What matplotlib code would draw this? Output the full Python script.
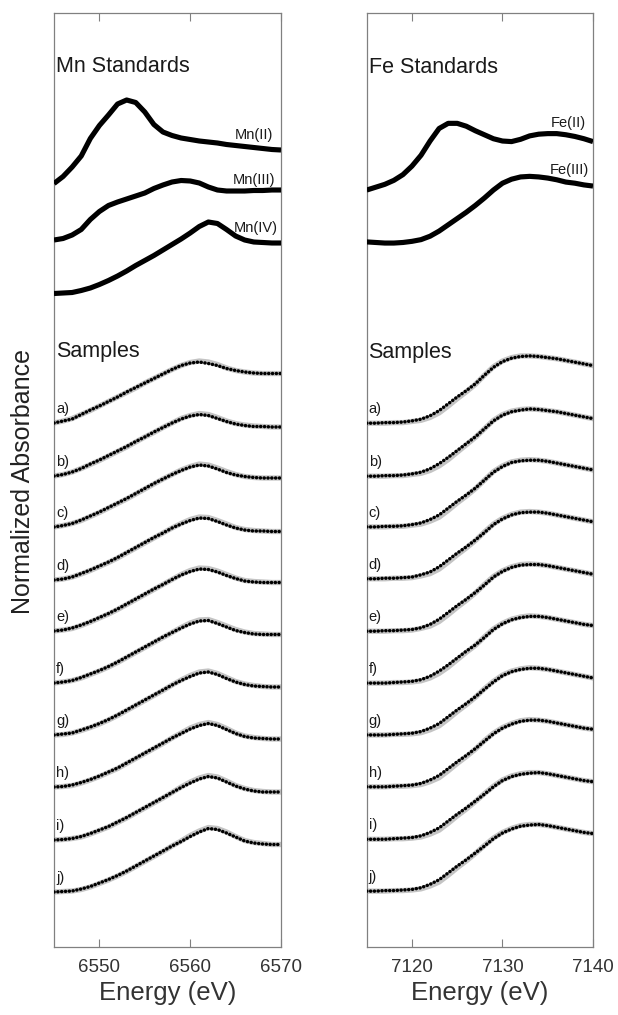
import numpy as np
import matplotlib
matplotlib.use("Agg")
import matplotlib.pyplot as plt
from matplotlib.transforms import blended_transform_factory

plt.rcParams['font.family'] = ['Liberation Sans', 'DejaVu Sans']

# ---------------- energies (eV) ----------------
mn_energy = np.arange(6545, 6571, 1.0)
fe_energy = np.arange(7115, 7141, 1.0)

# ---------------- Mn standards (normalized, relative to first point) ----------------
mn_II = [0.00, 0.14, 0.33, 0.55, 0.90, 1.16, 1.37, 1.59, 1.67, 1.62, 1.43, 1.18, 1.03,
         0.96, 0.91, 0.88, 0.85, 0.83, 0.81, 0.78, 0.76, 0.74, 0.72, 0.70, 0.68, 0.67]
mn_III = [0.00, 0.03, 0.10, 0.21, 0.41, 0.57, 0.69, 0.76, 0.82, 0.88, 0.94, 1.03, 1.10,
          1.16, 1.19, 1.18, 1.14, 1.06, 1.00, 0.98, 0.98, 0.98, 0.99, 0.99, 1.00, 1.00]
mn_IV = [0.00, 0.01, 0.02, 0.06, 0.11, 0.18, 0.26, 0.35, 0.45, 0.56, 0.66, 0.76, 0.87,
         0.98, 1.09, 1.21, 1.34, 1.43, 1.40, 1.28, 1.15, 1.07, 1.03, 1.02, 1.01, 1.01]

# ---------------- Fe standards ----------------
fe_II = [0.00, 0.05, 0.10, 0.17, 0.27, 0.42, 0.61, 0.86, 1.08, 1.17, 1.17, 1.12, 1.04,
         0.97, 0.90, 0.86, 0.85, 0.89, 0.95, 0.98, 0.99, 0.99, 0.97, 0.94, 0.90, 0.85]
fe_III = [0.00, -0.01, -0.02, -0.02, -0.01, 0.01, 0.04, 0.10, 0.19, 0.30, 0.41, 0.52, 0.64,
          0.77, 0.91, 1.03, 1.10, 1.14, 1.15, 1.14, 1.12, 1.09, 1.05, 1.03, 1.00, 0.98]

# ---------------- Mn samples: measured data ----------------
mn_a = [0.00,0.04,0.08,0.17,0.26,0.34,0.43,0.52,0.62,0.71,0.80,0.89,0.98,1.07,1.15,1.20,1.22,1.19,1.15,1.09,1.05,1.02,1.00,0.99,0.99,0.99]
mn_b = [0.00,0.03,0.08,0.15,0.24,0.32,0.41,0.50,0.59,0.69,0.78,0.88,0.97,1.06,1.14,1.20,1.23,1.21,1.15,1.09,1.04,1.01,0.99,0.99,0.98,0.98]
mn_c = [0.00,0.03,0.07,0.14,0.22,0.30,0.39,0.48,0.57,0.67,0.77,0.87,0.96,1.05,1.13,1.20,1.24,1.22,1.16,1.09,1.04,1.01,0.99,0.98,0.98,0.98]
mn_d = [0.00,0.02,0.06,0.13,0.20,0.28,0.36,0.45,0.55,0.65,0.75,0.85,0.94,1.04,1.12,1.19,1.24,1.23,1.17,1.10,1.04,1.00,0.98,0.98,0.97,0.97]
mn_e = [0.00,0.02,0.06,0.12,0.19,0.27,0.35,0.44,0.54,0.64,0.74,0.84,0.93,1.03,1.12,1.19,1.24,1.23,1.18,1.11,1.05,1.00,0.98,0.97,0.97,0.97]
mn_f = [0.00,0.02,0.05,0.11,0.18,0.25,0.33,0.42,0.52,0.62,0.72,0.82,0.92,1.01,1.10,1.18,1.24,1.25,1.19,1.12,1.05,1.01,0.98,0.97,0.97,0.97]
mn_g = [0.00,0.02,0.04,0.10,0.16,0.23,0.31,0.40,0.50,0.60,0.70,0.80,0.90,1.00,1.09,1.17,1.24,1.26,1.21,1.13,1.06,1.01,0.98,0.97,0.96,0.96]
mn_h = [0.00,0.01,0.04,0.09,0.15,0.22,0.30,0.38,0.48,0.58,0.68,0.78,0.88,0.98,1.07,1.16,1.23,1.27,1.23,1.15,1.07,1.01,0.98,0.97,0.96,0.96]
mn_i = [0.00,0.01,0.03,0.07,0.13,0.20,0.27,0.36,0.45,0.55,0.65,0.75,0.85,0.95,1.05,1.14,1.22,1.27,1.24,1.16,1.08,1.02,0.98,0.96,0.96,0.96]
mn_j = [0.00,0.01,0.02,0.06,0.11,0.18,0.25,0.33,0.42,0.52,0.62,0.72,0.82,0.92,1.01,1.11,1.20,1.27,1.25,1.18,1.10,1.02,0.98,0.96,0.95,0.95]

# ---------------- Mn samples: linear-combination fits ----------------
mn_a_fit = [0.00,0.04,0.09,0.17,0.25,0.34,0.43,0.52,0.61,0.70,0.80,0.89,0.98,1.07,1.15,1.21,1.24,1.22,1.17,1.10,1.05,1.02,1.00,0.99,0.99,0.99]
mn_b_fit = [0.00,0.03,0.08,0.15,0.23,0.31,0.40,0.49,0.58,0.68,0.78,0.87,0.97,1.06,1.15,1.21,1.25,1.23,1.17,1.10,1.05,1.02,1.00,0.99,0.98,0.98]
mn_c_fit = [0.00,0.03,0.07,0.13,0.21,0.29,0.38,0.47,0.56,0.66,0.76,0.86,0.96,1.05,1.14,1.21,1.26,1.24,1.18,1.11,1.05,1.01,0.99,0.98,0.98,0.98]
mn_d_fit = [0.00,0.02,0.06,0.12,0.19,0.27,0.35,0.44,0.54,0.64,0.74,0.84,0.94,1.04,1.13,1.21,1.26,1.25,1.19,1.12,1.05,1.01,0.99,0.98,0.97,0.97]
mn_e_fit = [0.00,0.02,0.05,0.11,0.18,0.26,0.34,0.43,0.53,0.63,0.73,0.83,0.93,1.03,1.13,1.21,1.26,1.25,1.20,1.13,1.06,1.01,0.99,0.98,0.97,0.97]
mn_f_fit = [0.00,0.02,0.05,0.10,0.17,0.24,0.32,0.41,0.51,0.61,0.71,0.81,0.91,1.01,1.11,1.20,1.26,1.27,1.21,1.14,1.07,1.02,0.99,0.98,0.97,0.97]
mn_g_fit = [0.00,0.01,0.04,0.09,0.15,0.22,0.30,0.39,0.49,0.59,0.69,0.79,0.89,1.00,1.10,1.19,1.26,1.28,1.23,1.15,1.07,1.02,0.99,0.97,0.96,0.96]
mn_h_fit = [0.00,0.01,0.03,0.08,0.14,0.21,0.29,0.37,0.47,0.57,0.67,0.77,0.87,0.98,1.08,1.18,1.25,1.29,1.25,1.17,1.08,1.02,0.99,0.97,0.96,0.96]
mn_i_fit = [0.00,0.01,0.03,0.06,0.12,0.19,0.26,0.35,0.44,0.54,0.64,0.74,0.84,0.95,1.06,1.16,1.24,1.29,1.26,1.18,1.09,1.03,0.99,0.97,0.96,0.96]
mn_j_fit = [0.00,0.01,0.02,0.05,0.10,0.17,0.24,0.32,0.41,0.51,0.61,0.71,0.81,0.92,1.02,1.13,1.22,1.29,1.27,1.20,1.11,1.03,0.99,0.97,0.95,0.95]

# ---------------- Fe samples: measured data ----------------
fe_a = [0.00,0.00,0.01,0.01,0.02,0.04,0.07,0.13,0.22,0.34,0.46,0.57,0.69,0.84,0.98,1.08,1.14,1.17,1.18,1.17,1.15,1.13,1.10,1.07,1.04,1.01]
fe_b = [0.00,0.00,0.01,0.01,0.02,0.04,0.07,0.13,0.22,0.33,0.45,0.57,0.69,0.83,0.97,1.07,1.13,1.16,1.18,1.17,1.15,1.13,1.10,1.07,1.04,1.01]
fe_c = [0.00,0.00,0.01,0.01,0.02,0.04,0.07,0.13,0.21,0.33,0.45,0.56,0.68,0.82,0.96,1.06,1.13,1.16,1.17,1.17,1.15,1.12,1.09,1.06,1.03,1.00]
fe_d = [0.00,0.00,0.01,0.01,0.02,0.03,0.07,0.12,0.21,0.33,0.45,0.56,0.68,0.81,0.95,1.05,1.12,1.16,1.17,1.17,1.15,1.12,1.09,1.06,1.03,1.00]
fe_e = [0.00,0.00,0.01,0.01,0.02,0.03,0.06,0.12,0.21,0.33,0.45,0.56,0.68,0.81,0.95,1.05,1.12,1.16,1.17,1.17,1.15,1.12,1.09,1.06,1.03,1.00]
fe_f = [0.00,0.00,0.00,0.01,0.02,0.03,0.06,0.12,0.21,0.32,0.44,0.56,0.67,0.80,0.94,1.04,1.11,1.15,1.17,1.17,1.15,1.12,1.09,1.06,1.03,1.01]
fe_g = [0.00,0.00,0.00,0.01,0.02,0.03,0.06,0.12,0.20,0.32,0.44,0.55,0.67,0.80,0.93,1.04,1.11,1.15,1.17,1.17,1.15,1.12,1.09,1.06,1.03,1.00]
fe_h = [0.00,0.00,0.00,0.01,0.02,0.03,0.06,0.12,0.20,0.32,0.44,0.55,0.67,0.80,0.93,1.03,1.10,1.15,1.17,1.17,1.15,1.12,1.09,1.06,1.03,1.01]
fe_i = [0.00,0.00,0.00,0.01,0.02,0.03,0.06,0.12,0.20,0.32,0.44,0.55,0.67,0.79,0.92,1.03,1.10,1.14,1.16,1.17,1.15,1.12,1.09,1.06,1.03,1.01]
fe_j = [0.00,0.00,0.01,0.01,0.02,0.03,0.06,0.12,0.20,0.32,0.44,0.55,0.67,0.79,0.92,1.02,1.09,1.14,1.16,1.17,1.15,1.12,1.09,1.06,1.03,1.01]

# ---------------- Fe samples: linear-combination fits ----------------
fe_a_fit = [0.00,0.00,0.00,0.01,0.01,0.03,0.05,0.10,0.18,0.30,0.43,0.55,0.68,0.84,0.99,1.09,1.15,1.18,1.18,1.17,1.15,1.13,1.10,1.07,1.04,1.01]
fe_b_fit = [0.00,0.00,0.00,0.01,0.01,0.03,0.05,0.10,0.18,0.29,0.42,0.55,0.68,0.83,0.98,1.08,1.14,1.17,1.18,1.17,1.15,1.13,1.10,1.07,1.04,1.01]
fe_c_fit = [0.00,0.00,0.00,0.01,0.01,0.03,0.05,0.10,0.17,0.29,0.42,0.54,0.67,0.82,0.97,1.07,1.14,1.17,1.18,1.17,1.15,1.12,1.09,1.06,1.03,1.00]
fe_d_fit = [0.00,0.00,0.00,0.01,0.01,0.02,0.05,0.09,0.17,0.29,0.42,0.54,0.67,0.82,0.96,1.06,1.13,1.17,1.18,1.17,1.15,1.12,1.09,1.06,1.03,1.00]
fe_e_fit = [0.00,0.00,0.00,0.01,0.01,0.02,0.05,0.09,0.17,0.29,0.42,0.54,0.67,0.82,0.96,1.06,1.13,1.17,1.18,1.17,1.15,1.12,1.09,1.06,1.03,1.00]
fe_f_fit = [0.00,0.00,0.00,0.01,0.01,0.02,0.04,0.09,0.17,0.28,0.41,0.54,0.66,0.81,0.95,1.05,1.12,1.16,1.18,1.17,1.15,1.12,1.09,1.06,1.03,1.01]
fe_g_fit = [0.00,0.00,0.00,0.01,0.01,0.02,0.04,0.09,0.16,0.28,0.41,0.53,0.66,0.81,0.94,1.05,1.12,1.16,1.18,1.17,1.15,1.12,1.09,1.06,1.03,1.00]
fe_h_fit = [0.00,0.00,0.00,0.01,0.01,0.02,0.04,0.09,0.16,0.28,0.41,0.53,0.66,0.81,0.94,1.04,1.11,1.16,1.18,1.17,1.15,1.12,1.09,1.06,1.03,1.01]
fe_i_fit = [0.00,0.00,0.00,0.01,0.01,0.02,0.04,0.09,0.16,0.28,0.41,0.53,0.66,0.80,0.93,1.04,1.11,1.15,1.17,1.17,1.15,1.12,1.09,1.06,1.03,1.01]
fe_j_fit = [0.00,0.00,0.00,0.01,0.01,0.02,0.04,0.09,0.16,0.28,0.41,0.53,0.66,0.80,0.93,1.03,1.10,1.15,1.17,1.17,1.15,1.12,1.09,1.06,1.03,1.01]

sample_labels = ['a)', 'b)', 'c)', 'd)', 'e)', 'f)', 'g)', 'h)', 'i)', 'j)']
mn_standard_labels = ['Mn(II)', 'Mn(III)', 'Mn(IV)']
fe_standard_labels = ['Fe(II)', 'Fe(III)']

mn_samples = [mn_a, mn_b, mn_c, mn_d, mn_e, mn_f, mn_g, mn_h, mn_i, mn_j]
mn_fits = [mn_a_fit, mn_b_fit, mn_c_fit, mn_d_fit, mn_e_fit,
           mn_f_fit, mn_g_fit, mn_h_fit, mn_i_fit, mn_j_fit]
fe_samples = [fe_a, fe_b, fe_c, fe_d, fe_e, fe_f, fe_g, fe_h, fe_i, fe_j]
fe_fits = [fe_a_fit, fe_b_fit, fe_c_fit, fe_d_fit, fe_e_fit,
           fe_f_fit, fe_g_fit, fe_h_fit, fe_i_fit, fe_j_fit]

# vertical stacking offsets (layout)
mn_std_offsets = [15.27, 14.14, 13.07]
mn_sample_offsets = [10.48, 9.42, 8.40, 7.34, 6.32, 5.28, 4.24, 3.20, 2.14, 1.10]
fe_std_offsets = [13.28, 12.37]
fe_sample_offsets = [9.19, 8.26, 7.37, 6.46, 5.54, 4.63, 3.72, 2.81, 1.89, 0.98]

# label anchor positions in data coordinates (layout)
mn_std_label_pos = [(6569.1, 16.24), (6569.4, 15.34), (6569.6, 14.38)]
fe_std_label_pos = [(7139.2, 14.46), (7139.6, 13.63)]

W, H = 618, 1015
fig = plt.figure(figsize=(W / 100, H / 100), dpi=100)

ax_mn = fig.add_axes([54 / W, 1 - 947 / H, 227 / W, 934 / H])
ax_fe = fig.add_axes([366.7 / W, 1 - 947 / H, 226.3 / W, 934 / H])

SPINE = '#808080'
TXT = '#1a1a1a'


def style_axis(ax, xlim, ylim, ticks):
    ax.set_xlim(*xlim)
    ax.set_ylim(*ylim)
    ax.set_xticks(ticks)
    ax.set_yticks([])
    ax.tick_params(axis='x', direction='in', length=6, width=0.8, color=SPINE,
                   top=True, labelsize=13.5, labelcolor='#333333', pad=9)
    for s in ax.spines.values():
        s.set_color(SPINE)
        s.set_linewidth(0.9)
    ax.set_xlabel('Energy (eV)', fontsize=18.5, color='#333333', labelpad=3)


def draw_panel(ax, energy, standards, std_offsets, std_labels, std_label_pos,
               samples, fits, sample_offsets, title, samples_y, title_y):
    for vals, off in zip(standards, std_offsets):
        ax.plot(energy, np.asarray(vals) + off, color='black', lw=3.7,
                solid_capstyle='butt', solid_joinstyle='round', zorder=3)
    for lab, (x, y) in zip(std_labels, std_label_pos):
        ax.text(x, y, lab, ha='right', va='center', fontsize=10.5, color=TXT)
    for vals, fit, off in zip(samples, fits, sample_offsets):
        ax.plot(energy, np.asarray(fit) + off, color='#c4c4c4', lw=3.8,
                solid_joinstyle='round', zorder=2)
        ax.plot(energy, np.asarray(vals) + off, color='black', lw=2.5,
                linestyle=(0, (0.05, 1.05)), dash_capstyle='round', zorder=3)
    tr = blended_transform_factory(ax.transAxes, ax.transData)
    for lab, off in zip(sample_labels, sample_offsets):
        ax.annotate(lab, xy=(0.0, off), xycoords=tr, xytext=(1.5, 10.2),
                    textcoords='offset points', ha='left', va='center',
                    fontsize=10.5, color=TXT)
    ax.text(0.008, title_y, title, transform=tr, ha='left', va='center',
            fontsize=15.5, color=TXT)
    ax.text(0.008, samples_y, 'Samples', transform=tr, ha='left', va='center',
            fontsize=15.5, color=TXT)


style_axis(ax_mn, (6545, 6570), (0, 934 / 50), [6550, 6560, 6570])
style_axis(ax_fe, (7115, 7140), (0, 934 / 57), [7120, 7130, 7140])

draw_panel(ax_mn, mn_energy, [mn_II, mn_III, mn_IV], mn_std_offsets,
           mn_standard_labels, mn_std_label_pos, mn_samples, mn_fits,
           mn_sample_offsets, 'Mn Standards', (947 - 352) / 50, (947 - 67) / 50)
draw_panel(ax_fe, fe_energy, [fe_II, fe_III], fe_std_offsets,
           fe_standard_labels, fe_std_label_pos, fe_samples, fe_fits,
           fe_sample_offsets, 'Fe Standards', (947 - 352) / 57, (947 - 67) / 57)

fig.text(23 / W, 1 - 482 / H, 'Normalized Absorbance', rotation=90,
         ha='center', va='center', fontsize=18, color='#222222')

fig.savefig('out.png', dpi=100)
